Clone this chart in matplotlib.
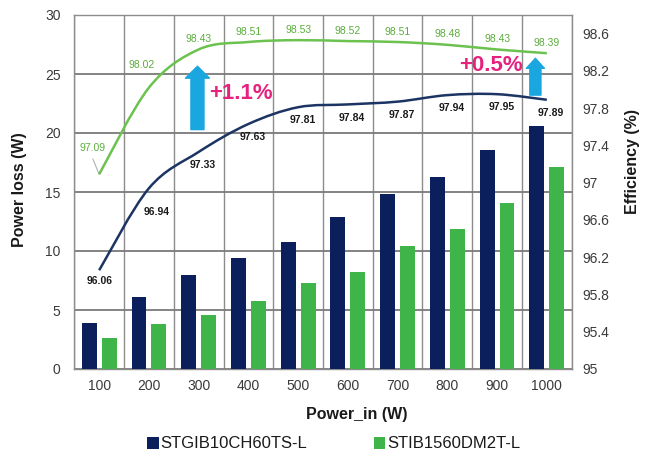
import matplotlib
matplotlib.use("Agg")
import matplotlib.pyplot as plt
from matplotlib.path import Path
from matplotlib.patches import PathPatch, Patch
import numpy as np

plt.rcParams['font.family'] = ['Liberation Sans', 'DejaVu Sans']

# ---------------- data ----------------
power_in = ["100", "200", "300", "400", "500", "600", "700", "800", "900", "1000"]
loss_stgib = [3.9, 6.1, 8.0, 9.4, 10.8, 12.9, 14.8, 16.3, 18.6, 20.6]
loss_stib = [2.6, 3.8, 4.6, 5.8, 7.3, 8.2, 10.4, 11.9, 14.1, 17.1]
eff_stgib = [96.06, 96.94, 97.33, 97.63, 97.81, 97.84, 97.87, 97.94, 97.95, 97.89]
eff_stib = [97.09, 98.02, 98.43, 98.51, 98.53, 98.52, 98.51, 98.48, 98.43, 98.39]
series_names = ["STGIB10CH60TS-L", "STIB1560DM2T-L"]
loss_ticks = [0, 5, 10, 15, 20, 25, 30]
eff_ticks = [95, 95.4, 95.8, 96.2, 96.6, 97, 97.4, 97.8, 98.2, 98.6]
gain_texts = ["+1.1%", "+0.5%"]

# ---------------- style ----------------
NAVY = "#0b1f5c"
NAVY_LINE = "#1c3463"
GREEN = "#3fb449"
GREEN_LINE = "#6cc24f"
GREEN_TXT = "#5aad3c"
CYAN = "#1aa6df"
MAGENTA = "#e5237f"
GRID = "#7a7a7a"
TXT = "#3a3a3a"

fig = plt.figure(figsize=(6.52, 4.57), dpi=100)
ax = fig.add_axes([74.3 / 652, 1 - 369 / 457, (571.7 - 74.3) / 652, (369 - 15) / 457])
x = np.arange(len(power_in))

# bars on left axis
w = 0.30
ax.bar(x - 0.2, loss_stgib, width=w, color=NAVY, zorder=3)
ax.bar(x + 0.2, loss_stib, width=w, color=GREEN, zorder=3)
ax.set_xlim(-0.5, len(power_in) - 0.5)
ax.set_ylim(0, 30)
ax.set_yticks(loss_ticks)
ax.set_xticks(x)
ax.set_xticklabels(power_in)
ax.set_xticks(np.arange(-0.5, len(power_in), 1.0), minor=True)
ax.grid(axis='y', which='major', color=GRID, lw=1.3, zorder=0)
ax.grid(axis='x', which='minor', color="#8c8c8c", lw=1.0, zorder=0)
ax.grid(axis='x', which='major', visible=False)
ax.tick_params(axis='y', length=0, pad=10, labelsize=10, labelcolor=TXT)
ax.tick_params(axis='x', which='both', length=0, pad=7, labelsize=10, labelcolor=TXT)
for s in ax.spines.values():
    s.set_color("#8c8c8c")
    s.set_linewidth(1.0)

# efficiency on right axis
ax2 = ax.twinx()
ax2.set_ylim(95, 98.8)
ax2.set_yticks(eff_ticks)
ax2.set_yticklabels(["%g" % t for t in eff_ticks])
ax2.tick_params(axis='y', length=0, pad=8, labelsize=10, labelcolor=TXT)
for s in ax2.spines.values():
    s.set_visible(False)


def smooth_path(xs, ys):
    pts = np.column_stack([xs, ys]).astype(float)
    n = len(pts)
    verts = [pts[0]]
    codes = [Path.MOVETO]
    for i in range(n - 1):
        p0 = pts[i - 1] if i > 0 else pts[i]
        p1 = pts[i]
        p2 = pts[i + 1]
        p3 = pts[i + 2] if i + 2 < n else pts[i + 1]
        c1 = p1 + (p2 - p0) / 6.0
        c2 = p2 - (p3 - p1) / 6.0
        verts += [c1, c2, p2]
        codes += [Path.CURVE4] * 3
    return Path(verts, codes)


ax2.add_patch(PathPatch(smooth_path(x, eff_stgib), fill=False, edgecolor=NAVY_LINE, lw=1.8, zorder=4))
ax2.add_patch(PathPatch(smooth_path(x, eff_stib), fill=False, edgecolor=GREEN_LINE, lw=1.8, zorder=4))

# data labels
green_off = [(-5, 19), (-5.4, 16)] + [(0, 7.5)] * 8
blue_off = [(0, -7.5), (5.8, -17)] + [(3, -9.5)] * 8
for i in range(len(x)):
    ax2.annotate("%.2f" % eff_stib[i], (x[i], eff_stib[i]), xytext=green_off[i],
                 textcoords='offset points', ha='center', va='center',
                 fontsize=7.5, color=GREEN_TXT, zorder=6)
    ax2.annotate("%.2f" % eff_stgib[i], (x[i], eff_stgib[i]), xytext=blue_off[i],
                 textcoords='offset points', ha='center', va='center',
                 fontsize=7.5, fontweight='bold', color="#1a1a1a", zorder=6)
# leader for first green label
ax2.annotate("", (x[0], eff_stib[0]), xytext=(-4.5, 11), textcoords='offset points',
             arrowprops=dict(arrowstyle='-', color="#b0b0b0", lw=0.8, shrinkA=0, shrinkB=0))

# arrows and gains
ax2.annotate("", xy=(1.976, 98.25), xytext=(1.976, 97.57),
             arrowprops=dict(arrowstyle="simple,head_length=0.86,head_width=1.73,tail_width=0.94",
                             mutation_scale=10, color=CYAN, shrinkA=0, shrinkB=0), zorder=7)
ax2.annotate("", xy=(8.77, 98.335), xytext=(8.77, 97.94),
             arrowprops=dict(arrowstyle="simple,head_length=0.72,head_width=1.3,tail_width=0.8",
                             mutation_scale=10, color=CYAN, shrinkA=0, shrinkB=0), zorder=7)
ax2.text(2.86, 97.96, gain_texts[0], color=MAGENTA, fontsize=16, fontweight='bold',
         ha='center', va='center', zorder=8)
ax2.text(7.87, 98.26, gain_texts[1], color=MAGENTA, fontsize=16, fontweight='bold',
         ha='center', va='center', zorder=8)

# axis titles
fig.text(20 / 652, 1 - 190 / 457, "Power loss (W)", rotation=90, ha='center', va='center',
         fontsize=11.5, fontweight='bold', color="#1a1a1a")
fig.text(632 / 652, 1 - 162 / 457, "Efficiency (%)", rotation=90, ha='center', va='center',
         fontsize=11.5, fontweight='bold', color="#1a1a1a")
fig.text(357 / 652, 1 - 415 / 457, "Power_in (W)", ha='center', va='center',
         fontsize=11.5, fontweight='bold', color="#1a1a1a")

# legend
handles = [Patch(facecolor=NAVY, edgecolor='none'), Patch(facecolor=GREEN, edgecolor='none')]
fig.legend(handles, series_names, loc='center', bbox_to_anchor=(333.5 / 652, 1 - 444 / 457),
           ncol=2, frameon=False, fontsize=12, handlelength=0.7, handleheight=0.7,
           handletextpad=0.1, columnspacing=4.0, labelcolor="#1a1a1a")

fig.savefig("out.png", dpi=100)
